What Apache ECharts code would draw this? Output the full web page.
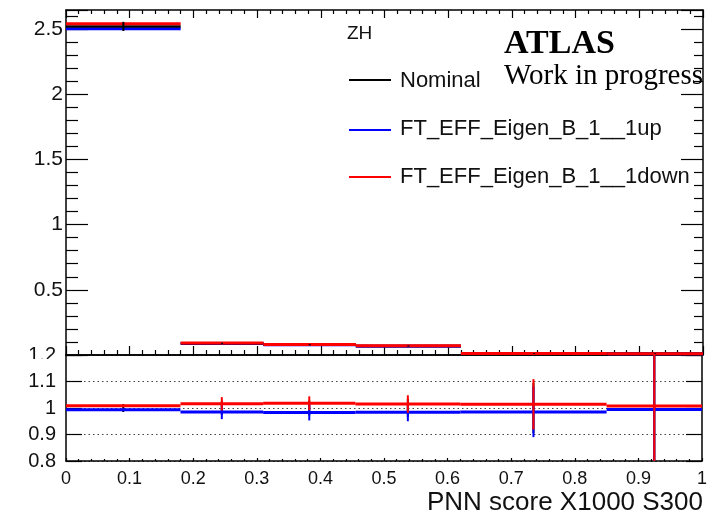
<!DOCTYPE html>
<html>
<head>
<meta charset="utf-8">
<script src="https://cdn.jsdelivr.net/npm/echarts@6/dist/echarts.min.js"></script>
<style>
html,body{margin:0;padding:0;background:#fff;}
#chart{width:710px;height:521px;}
</style>
</head>
<body>
<div id="chart"></div>
<script>
// ---- data ----
const binEdges = [0, 0.18, 0.31, 0.455, 0.62, 0.85, 1.0];
const nominal = [2.52, 0.090, 0.079, 0.069, 0.012, 0.010];
const nominalErr = [0.035, 0.004, 0.004, 0.004, 0.003, 0.003];
const up = [2.502, 0.0887, 0.0777, 0.0679, 0.0118, 0.0099];
const upErr = [0.006, 0.003, 0.003, 0.003, 0.002, 0.002];
const down = [2.541, 0.0914, 0.0804, 0.0700, 0.0122, 0.0101];
const downErr = [0.006, 0.003, 0.003, 0.003, 0.002, 0.002];
const ratioNominalErr = [0.015, 0.027, 0.028, 0.034, 0.095, 0.6];
const ratioUp = [0.993, 0.985, 0.983, 0.984, 0.985, 0.994];
const ratioUpErr = [0.004, 0.027, 0.030, 0.034, 0.095, 0.6];
const ratioDown = [1.0085, 1.016, 1.018, 1.015, 1.014, 1.008];
const ratioDownErr = [0.004, 0.025, 0.026, 0.033, 0.095, 0.6];
const legendNames = ['Nominal', 'FT_EFF_Eigen_B_1__1up', 'FT_EFF_Eigen_B_1__1down'];
const xTitle = 'PNN score X1000 S300';

function histData(vals, errs) {
  return vals.map((v, i) => [binEdges[i], binEdges[i + 1], v, errs[i]]);
}

function makeRender(drawLine, drawErr, color, lw) {
  return function (params, api) {
    const cs = params.coordSys;
    const clampY = y => Math.max(cs.y, Math.min(cs.y + cs.height, y));
    const lo = api.value(0), hi = api.value(1), v = api.value(2), e = api.value(3);
    const children = [];
    if (drawLine) {
      const p1 = api.coord([lo, v]);
      const p2 = api.coord([hi, v]);
      children.push({type: 'line', shape: {x1: p1[0], y1: clampY(p1[1]), x2: p2[0], y2: clampY(p2[1])},
        style: {stroke: color, lineWidth: lw}});
    }
    if (drawErr) {
      const mid = (lo + hi) / 2;
      const a = api.coord([mid, v + e]);
      const b = api.coord([mid, v - e]);
      children.push({type: 'line', shape: {x1: a[0], y1: clampY(a[1]), x2: b[0], y2: clampY(b[1])},
        style: {stroke: color, lineWidth: 2}});
    }
    return {type: 'group', children: children};
  };
}

function series(data, xi, yi, drawLine, drawErr, color, lw) {
  return {type: 'custom', xAxisIndex: xi, yAxisIndex: yi, data: data,
    renderItem: makeRender(drawLine, drawErr, color, lw), silent: true, animation: false,
    encode: {x: [0, 1], y: 2}};
}

const fmt = v => String(Math.round(v * 100) / 100);
const axisLineStyle = {color: '#000', width: 1.5};
const tickLine = {color: '#000', width: 1.2};

const RED = '#ff0000', BLUE = '#0000ff', BLACK = '#000000';

const option = {
  backgroundColor: '#fff',
  animation: false,
  grid: [
    {left: 66, top: 10, width: 637, height: 345},
    {left: 66, top: 355, width: 637, height: 106}
  ],
  xAxis: [
    {gridIndex: 0, type: 'value', min: 0, max: 1, interval: 0.1, position: 'bottom',
      axisLine: {onZero: false, lineStyle: axisLineStyle},
      axisTick: {inside: true, length: 9, lineStyle: tickLine},
      minorTick: {show: true, splitNumber: 5, length: 5, lineStyle: tickLine},
      axisLabel: {show: false}, splitLine: {show: false}},
    {gridIndex: 0, type: 'value', min: 0, max: 1, interval: 0.1, position: 'top',
      axisLine: {onZero: false, lineStyle: axisLineStyle},
      axisTick: {inside: true, length: 8, lineStyle: tickLine},
      minorTick: {show: true, splitNumber: 5, length: 4, lineStyle: tickLine},
      axisLabel: {show: false}, splitLine: {show: false}},
    {gridIndex: 1, type: 'value', min: 0, max: 1, interval: 0.1, position: 'bottom',
      axisLine: {onZero: false, lineStyle: axisLineStyle},
      axisTick: {inside: true, length: 3, lineStyle: tickLine},
      minorTick: {show: true, splitNumber: 5, length: 2, lineStyle: tickLine},
      axisLabel: {show: true, margin: 9, fontSize: 18, color: '#111', fontFamily: 'Liberation Sans', formatter: fmt},
      splitLine: {show: false}},
    {gridIndex: 1, type: 'value', min: 0, max: 1, interval: 0.1, position: 'top',
      axisLine: {onZero: false, lineStyle: axisLineStyle},
      axisTick: {show: false}, axisLabel: {show: false}, splitLine: {show: false}}
  ],
  yAxis: [
    {gridIndex: 0, type: 'value', min: 0, max: 2.646, interval: 0.5, position: 'left',
      axisLine: {onZero: false, lineStyle: axisLineStyle},
      axisTick: {inside: true, length: 22, lineStyle: tickLine},
      minorTick: {show: true, splitNumber: 5, length: 12, lineStyle: tickLine},
      axisLabel: {show: true, margin: 3, fontSize: 21, color: '#111', fontFamily: 'Liberation Sans',
        formatter: v => (v < 0.01 || Math.abs(v / 0.5 - Math.round(v / 0.5)) > 1e-6) ? '' : fmt(v)},
      splitLine: {show: false}},
    {gridIndex: 0, type: 'value', min: 0, max: 2.646, interval: 0.5, position: 'right',
      axisLine: {onZero: false, lineStyle: axisLineStyle},
      axisTick: {inside: true, length: 22, lineStyle: tickLine},
      minorTick: {show: true, splitNumber: 5, length: 9, lineStyle: tickLine},
      axisLabel: {show: false}, splitLine: {show: false}},
    {gridIndex: 1, type: 'value', min: 0.8, max: 1.2, interval: 0.1, position: 'left',
      axisLine: {onZero: false, lineStyle: axisLineStyle},
      axisTick: {inside: true, length: 16, lineStyle: tickLine},
      axisLabel: {show: true, margin: 10, fontSize: 20, color: '#111', fontFamily: 'Liberation Sans', formatter: fmt},
      splitLine: {show: true, lineStyle: {color: '#444', width: 1, type: [1.5, 3]}}},
    {gridIndex: 1, type: 'value', min: 0.8, max: 1.2, interval: 0.1, position: 'right',
      axisLine: {onZero: false, lineStyle: axisLineStyle},
      axisTick: {inside: true, length: 16, lineStyle: tickLine},
      axisLabel: {show: false}, splitLine: {show: false}}
  ],
  series: [
    // main panel
    series(histData(up, upErr), 0, 0, true, false, BLUE, 3),
    series(histData(nominal, nominalErr), 0, 0, true, false, BLACK, 2.5),
    series(histData(down, downErr), 0, 0, true, false, RED, 3),
    series(histData(up, upErr), 0, 0, false, true, BLUE, 2),
    series(histData(down, downErr), 0, 0, false, true, RED, 2),
    series(histData(nominal, nominalErr), 0, 0, false, true, BLACK, 2),
    // ratio panel
    series(histData(ratioUp.map(() => 1), ratioNominalErr), 2, 2, false, true, BLACK, 2),
    series(histData(ratioUp, ratioUpErr), 2, 2, true, true, BLUE, 3),
    series(histData(ratioDown, ratioDownErr), 2, 2, true, true, RED, 3)
  ],
  graphic: [
    {type: 'rect', left: 20, top: 359, shape: {width: 43, height: 5}, style: {fill: '#fff'}, z: 100},
    {type: 'text', x: 347, y: 34, style: {text: 'ZH', fontSize: 19, fontFamily: 'Liberation Sans', fill: '#111', verticalAlign: 'middle'}},
    {type: 'line', shape: {x1: 349, y1: 80, x2: 391, y2: 80}, style: {stroke: BLACK, lineWidth: 2}},
    {type: 'line', shape: {x1: 349, y1: 130, x2: 391, y2: 130}, style: {stroke: BLUE, lineWidth: 2}},
    {type: 'line', shape: {x1: 349, y1: 177, x2: 391, y2: 177}, style: {stroke: RED, lineWidth: 2}},
    {type: 'text', x: 400, y: 81, style: {text: legendNames[0], fontSize: 22, fontFamily: 'Liberation Sans', fill: '#111', verticalAlign: 'middle'}},
    {type: 'text', x: 400, y: 129, style: {text: legendNames[1], fontSize: 22, fontFamily: 'Liberation Sans', fill: '#111', verticalAlign: 'middle'}},
    {type: 'text', x: 400, y: 177, style: {text: legendNames[2], fontSize: 22, fontFamily: 'Liberation Sans', fill: '#111', verticalAlign: 'middle'}},
    {type: 'text', x: 504, y: 44, style: {text: 'ATLAS', fontSize: 34, fontWeight: 'bold', fontFamily: 'Liberation Serif', fill: '#000', verticalAlign: 'middle'}},
    {type: 'text', x: 504, y: 76, style: {text: 'Work in progress', fontSize: 29, fontFamily: 'Liberation Serif', fill: '#000', verticalAlign: 'middle'}},
    {type: 'text', x: 703, y: 503, style: {text: xTitle, fontSize: 26, fontFamily: 'Liberation Sans', fill: '#111', align: 'right', verticalAlign: 'middle'}}
  ]
};

const chart = echarts.init(document.getElementById('chart'), null, {renderer: 'canvas'});
chart.setOption(option);
</script>
</body>
</html>
